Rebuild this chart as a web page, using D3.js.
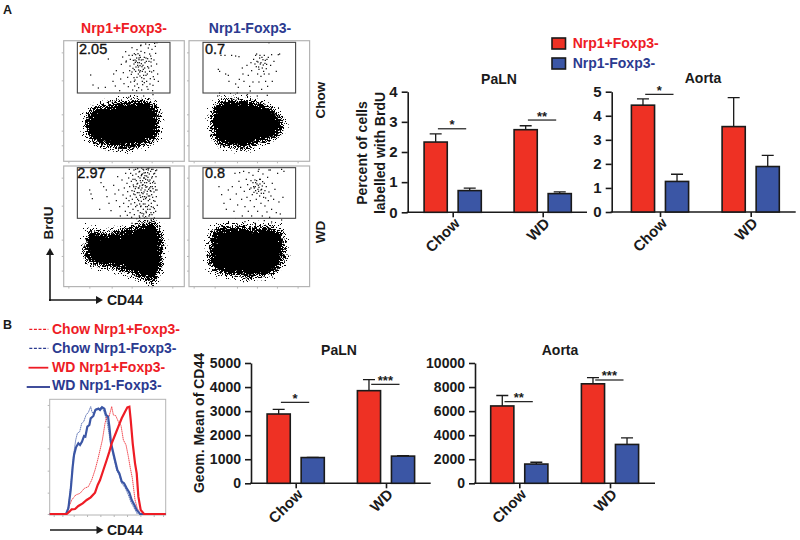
<!DOCTYPE html>
<html><head><meta charset="utf-8">
<style>
html,body{margin:0;padding:0;background:#fff}
text{font-family:"Liberation Sans",Arial,sans-serif}
</style>
<script src="https://cdn.jsdelivr.net/npm/d3@7/dist/d3.min.js"></script>
</head><body><svg id="c" width="800" height="540"></svg>
<script>
// ---------- bar chart data ----------
const categories = ["Chow","WD"];
const series = ["Nrp1+Foxp3-","Nrp1-Foxp3-"];
const palnBrduMean = [[2.33,0.72],[2.74,0.62]];
const palnBrduTop  = [[2.60,0.80],[2.87,0.68]];
const aortaBrduMean = [[4.44,1.27],[3.55,1.89]];
const aortaBrduTop  = [[4.70,1.57],[4.75,2.35]];
const palnCd44Mean = [[2880,1070],[3850,1130]];
const palnCd44Top  = [[3070,1075],[4310,1145]];
const aortaCd44Mean = [[6430,1600],[8270,3230]];
const aortaCd44Top  = [[7300,1750],[8780,3780]];
const palnBrduTicks = [0,1,2,3,4];
const aortaBrduTicks = [0,1,2,3,4,5];
const palnCd44Ticks = [0,1000,2000,3000,4000,5000];
const aortaCd44Ticks = [0,2000,4000,6000,8000,10000];
const palnBrduSig = [["*",2.77],["**",3.06]];
const aortaBrduSig = [["*",4.89],null];
const palnCd44Sig = [["*",3365],["***",4113]];
const aortaCd44Sig = [["**",6787],["***",8587]];

// ---------- flow cytometry data (channel units, read by eye) ----------
const flowGateChow = ["2.05","0.7"];
const flowGateWd = ["2.97","0.8"];
const blobChowPos = [[64,105],[68,135],[87,158],[125,170],[180,180],[240,184],[273,173],[285,145],[286,105],[278,72],[250,52],[210,40],[170,38],[125,47],[87,60],[70,80]];
const blobChowNeg = [[68,94],[69,145],[80,172],[113,184],[175,183],[233,168],[270,140],[281,110],[270,80],[225,60],[165,41],[113,47],[80,60]];
const blobWdPos = [[62,100],[66,140],[78,168],[120,160],[170,170],[215,180],[268,195],[292,165],[296,110],[292,60],[270,14],[240,25],[205,38],[140,57],[78,72]];
const blobWdNeg = [[64,60],[63,120],[72,168],[110,179],[190,178],[258,177],[282,158],[287,110],[280,66],[255,43],[195,28],[120,35],[82,45]];
const dotsChowPos = [[81,259],[88,229],[104,220],[134,307],[125,222],[150,262],[158,272],[148,240],[155,226],[168,212],[171,247],[173,291],[177,313],[179,266],[181,233],[186,329],[188,301],[187,298],[192,252],[194,224],[196,318],[199,286],[203,261],[201,238],[207,214],[205,341],[209,303],[208,279],[211,251],[213,226],[212,323],[215,297],[216,270],[214,244],[219,212],[220,335],[219,310],[222,288],[224,262],[221,232],[226,305],[224,283],[227,296],[229,256],[225,221],[231,347],[228,318],[233,293],[230,272],[236,240],[234,214],[232,330],[238,305],[235,284],[240,258],[237,230],[242,312],[239,276],[244,296],[241,248],[246,352],[243,326],[248,300],[245,268],[250,224],[247,310],[252,284],[249,240],[254,340],[251,262],[256,300],[253,216],[258,322],[255,280],[260,248],[257,350],[262,298],[259,232],[264,268],[261,316],[267,212],[263,286],[269,254],[265,336],[271,304],[268,228],[273,354],[270,272],[276,324],[272,246],[279,292],[275,345],[282,262],[280,356],[195,192],[240,196],[268,200],[284,240],[232,349],[212,275],[205,268],[218,301],[228,268],[226,310],[216,320],[236,270],[222,296],[229,287],[217,283],[233,304],[225,274],[211,292],[238,288],[220,252],[230,312],[243,280],[214,304],[206,318],[247,258],[200,306],[252,308],[223,323],[234,251],[242,236],[212,240],[198,272],[263,308],[258,270]];
const dotsChowNeg = [[88,276],[96,318],[108,318],[128,318],[140,316],[150,314],[92,270],[110,262],[118,258],[120,240],[140,232],[148,222],[151,246],[160,280],[162,262],[165,240],[174,288],[178,258],[182,225],[184,211],[186,296],[188,272],[192,238],[194,306],[198,292],[200,318],[203,322],[204,300],[206,262],[209,283],[210,238],[212,310],[214,292],[216,255],[218,216],[220,280],[222,305],[224,270],[226,318],[228,294],[230,240],[232,278],[234,306],[236,225],[238,312],[240,262],[245,288],[250,240],[255,300],[262,270],[268,320],[272,322],[175,200],[205,196],[235,198],[248,320],[240,356],[145,205],[92,205],[86,196],[207,298],[216,296],[223,289],[210,276],[219,312],[229,303],[202,284],[213,318],[233,291],[226,262]];
const dotsWdPos = [[78,290],[82,278],[86,264],[108,232],[112,312],[120,300],[128,290],[130,270],[136,250],[142,228],[150,304],[154,278],[158,258],[162,330],[165,290],[168,240],[170,212],[175,320],[178,275],[180,250],[182,296],[185,226],[186,340],[188,265],[190,310],[191,214],[192,285],[194,240],[195,326],[196,258],[197,352],[198,300],[199,222],[200,272],[201,340],[202,248],[203,316],[204,208],[205,288],[206,262],[207,334],[208,232],[209,305],[210,278],[211,350],[212,216],[213,252],[214,322],[215,294],[216,240],[217,338],[218,268],[219,204],[220,308],[221,282],[222,354],[223,228],[224,330],[225,258],[226,296],[227,212],[228,346],[229,274],[230,318],[231,240],[232,290],[233,256],[234,336],[235,220],[236,304],[237,270],[238,352],[239,232],[240,326],[241,284],[242,206],[243,312],[244,248],[245,342],[246,264],[247,298],[248,222],[249,332],[250,278],[251,240],[252,320],[253,354],[254,258],[255,292],[256,212],[257,338],[258,272],[259,232],[260,310],[261,346],[262,286],[263,250],[264,326],[265,216],[266,300],[267,268],[268,352],[269,238],[270,316],[271,284],[272,206],[273,340],[274,256],[275,300],[276,226],[277,330],[278,270],[279,350],[280,290],[281,244],[205,190],[215,188],[225,196],[235,192],[245,198],[255,190],[262,200],[272,196],[250,205],[228,208],[238,212],[210,300],[214,276],[218,318],[222,262],[226,344],[230,222],[234,282],[238,306],[242,326],[246,240],[250,300],[254,350],[258,262],[262,222],[266,330],[270,258],[274,310],[244,290],[248,268],[252,232],[256,316],[260,288],[264,352],[268,294],[272,234],[276,348],[240,262],[236,338],[232,312],[228,248],[224,296],[220,244],[216,352],[212,286],[208,322],[240,350],[246,322],[252,342],[258,296],[264,276],[270,338],[276,290],[233,333],[241,341],[249,312],[237,318],[245,303],[253,328],[229,326],[235,296],[243,270],[251,286],[259,320],[239,248],[247,226],[255,244],[231,268],[263,240],[267,312],[226,282],[222,310],[217,300],[238,279],[254,272],[261,300],[244,333],[248,352],[234,356],[256,356],[228,302],[232,242],[240,218],[246,210],[252,198],[258,216],[264,204],[270,222]];
const dotsWdNeg = [[90,300],[98,276],[105,250],[112,232],[118,290],[124,262],[130,300],[135,226],[138,340],[142,278],[146,245],[150,316],[155,298],[158,262],[160,212],[164,346],[166,286],[168,240],[172,322],[174,268],[176,306],[178,226],[180,342],[182,292],[184,258],[186,318],[188,212],[190,276],[192,334],[194,300],[196,240],[198,320],[200,288],[202,262],[204,308],[206,226],[208,346],[210,298],[212,272],[214,322],[216,250],[218,292],[220,212],[222,338],[224,280],[226,310],[228,242],[230,266],[232,300],[234,224],[236,328],[238,258],[240,284],[242,208],[244,350],[246,272],[248,232],[250,310],[254,262],[258,292],[262,222],[266,340],[270,254],[274,218],[278,352],[282,268],[196,296],[200,312],[204,280],[208,304],[212,322],[216,290],[220,302],[224,268],[228,288],[192,312],[186,296],[168,195],[198,190],[226,198],[248,194],[278,200],[240,350],[285,346],[210,352],[152,342],[199,300],[207,292],[213,308],[203,318],[217,280],[209,286],[221,315],[195,283]];
const flowXTicks = [14,77,144,204,264,326];
const flowYTicks = [48,92,141,243,327];

// ---------- histogram data (channel, count, read by eye) ----------
const histWdNeg = [[0,3],[49,3],[56,20],[63,75],[69,145],[73,180],[79,203],[86,215],[91,210],[97,220],[103,237],[107,235],[113,265],[119,270],[123,290],[131,297],[137,315],[146,319],[151,315],[157,323],[164,319],[169,300],[175,295],[179,265],[184,215],[191,185],[197,160],[203,135],[209,125],[216,100],[223,95],[231,80],[239,67],[246,45],[254,30],[261,15],[271,3],[348,3]];
const histChowNeg = [[49,3],[56,25],[63,85],[71,175],[78,225],[83,245],[90,250],[96,275],[102,280],[109,300],[116,308],[123,325],[127,308],[131,305],[139,320],[146,317],[154,322],[161,315],[166,300],[171,285],[176,258],[181,225],[191,175],[201,135],[209,118],[216,95],[226,82],[236,60],[244,38],[251,25],[263,3]];
const histWdPos = [[0,3],[51,3],[59,10],[66,17],[76,18],[86,27],[99,35],[111,45],[123,53],[136,67],[144,90],[151,105],[161,135],[171,165],[179,190],[186,215],[196,240],[206,265],[216,290],[226,310],[233,323],[239,325],[243,285],[249,215],[256,155],[261,125],[266,55],[273,15],[283,3],[348,3]];
const histChowPos = [[51,3],[58,25],[66,45],[78,60],[91,65],[104,80],[116,85],[126,105],[136,135],[144,165],[151,195],[158,225],[166,275],[172,300],[178,295],[186,325],[191,300],[198,298],[206,280],[214,268],[221,225],[229,210],[236,175],[242,140],[248,110],[256,45],[263,20],[271,3]];
const histXTicks = [12,38,72,112,152,192,232,272,312,340];
const histYTicks = [3,67,133,200,265,330];

const legendB = ["Chow Nrp1+Foxp3-","Chow Nrp1-Foxp3-","WD Nrp1+Foxp3-","WD Nrp1-Foxp3-"];

// ---------- styles ----------
const RED="#ee3124", BLUE="#3b56a5", TRED="#ee1c25", TBLUE="#2b3a90", INK="#1a1a1a", GREY="#b4b4b4";
const svg=d3.select("#c");
const defs=svg.append("defs");
const fz=defs.append("filter").attr("id","fuzz").attr("x","-25%").attr("y","-25%").attr("width","150%").attr("height","150%").attr("color-interpolation-filters","sRGB");
fz.append("feTurbulence").attr("type","fractalNoise").attr("baseFrequency",1.4).attr("numOctaves",1).attr("seed",4).attr("result","n");
fz.append("feDisplacementMap").attr("in","SourceGraphic").attr("in2","n").attr("scale",26).attr("xChannelSelector","R").attr("yChannelSelector","G");

function txt(x,y,s,o={}){
  const t=svg.append("text").attr("x",x).attr("y",y).text(s)
    .attr("font-size",o.size||14).attr("font-weight",o.weight||"bold")
    .attr("fill",o.fill||INK).attr("text-anchor",o.anchor||"start");
  if(o.rot!=null) t.attr("transform",`rotate(${o.rot} ${x} ${y})`);
  return t;
}
function arrow(x1,y1,x2,y2){
  const dx=Math.sign(x2-x1),dy=Math.sign(y2-y1);
  svg.append("line").attr("x1",x1).attr("y1",y1).attr("x2",x2-dx*4).attr("y2",y2-dy*4).attr("stroke",INK).attr("stroke-width",1.6);
  const p=dx? [[x2,y2],[x2-dx*7,y2-4],[x2-dx*7,y2+4]] : [[x2,y2],[x2-4,y2-dy*7],[x2+4,y2-dy*7]];
  svg.append("path").attr("d",d3.line()(p)+"Z").attr("fill",INK);
}

// ---------- bar charts ----------
function barChart(o){
  const g=svg.append("g");
  const y=d3.scaleLinear().domain(o.domain).range([o.bottom,o.top]);
  const x0=d3.scalePoint().domain(categories).range(o.centers);
  const x1=d3.scaleBand().domain(series).range([-28.6,28.6]).paddingInner(0.32);
  const yAxis=d3.axisLeft(y).tickValues(o.ticks).tickSize(6).tickSizeOuter(0).tickFormat(d3.format("d"));
  const ya=g.append("g").attr("transform",`translate(${o.left},0)`).call(yAxis);
  const xa=g.append("g").attr("transform",`translate(0,${o.bottom})`)
    .call(d3.axisBottom(x0).tickSize(5).tickSizeOuter(0).tickFormat(""));
  xa.select(".domain").remove();
  xa.append("line").attr("x1",o.left-1).attr("x2",o.right).attr("stroke",INK).attr("stroke-width",1.6);
  [ya,xa].forEach(a=>{a.selectAll("path,line").attr("stroke",INK).attr("stroke-width",1.6);});
  ya.selectAll("text").attr("font-size",o.tickSize).attr("font-weight","bold").attr("fill",INK).attr("dx",-1).attr("font-family",'"Liberation Sans"');
  categories.forEach((c,i)=>{
    series.forEach((s,j)=>{
      const cx=x0(c)+x1(s)+x1.bandwidth()/2;
      const cap=6;
      const top=y(o.tops[i][j]), v=y(o.means[i][j]);
      g.append("path").attr("d",`M${cx},${v}V${top}M${cx-cap},${top}H${cx+cap}`).attr("fill","none").attr("stroke",INK).attr("stroke-width",1.3);
      g.append("rect").attr("x",x0(c)+x1(s)).attr("width",x1.bandwidth())
        .attr("y",v).attr("height",y(0)-v).attr("fill",j?BLUE:RED).attr("stroke",INK).attr("stroke-width",1.6);
    });
    const sg=o.sig[i];
    if(sg){
      g.append("line").attr("x1",x0(c)-14.8).attr("x2",x0(c)+13.5).attr("y1",y(sg[1])).attr("y2",y(sg[1])).attr("stroke",INK).attr("stroke-width",1.2);
      g.append("text").attr("x",x0(c)-0.6).attr("y",y(sg[1])+0.5).attr("text-anchor","middle").attr("font-size",13).attr("font-weight","bold").attr("fill",INK).text(sg[0]);
    }
    g.append("text").attr("text-anchor","end").attr("font-size",15).attr("font-weight","bold").attr("fill",INK)
      .attr("transform",`translate(${x0(c)+8},${o.bottom+12}) rotate(-45)`).text(c);
  });
  txt(o.titleX,o.titleY,o.title,{anchor:"middle"});
}
barChart({title:"PaLN",titleX:499,titleY:84,left:407.7,right:587,top:91.7,bottom:212.3,centers:[452.7,542.7],domain:[0,4],ticks:palnBrduTicks,means:palnBrduMean,tops:palnBrduTop,sig:palnBrduSig,tickSize:15});
barChart({title:"Aorta",titleX:703,titleY:83,left:611.7,right:795.7,top:91.7,bottom:212,centers:[660,750.7],domain:[0,5],ticks:aortaBrduTicks,means:aortaBrduMean,tops:aortaBrduTop,sig:aortaBrduSig,tickSize:15});
barChart({title:"PaLN",titleX:339,titleY:355,left:251,right:430.7,top:363,bottom:483.3,centers:[295.7,386],domain:[0,5000],ticks:palnCd44Ticks,means:palnCd44Mean,tops:palnCd44Top,sig:palnCd44Sig,tickSize:14});
barChart({title:"Aorta",titleX:560,titleY:355,left:475,right:655,top:363,bottom:483.3,centers:[519.3,610],domain:[0,10000],ticks:aortaCd44Ticks,means:aortaCd44Mean,tops:aortaCd44Top,sig:aortaCd44Sig,tickSize:14});

txt(366.5,153,"Percent of cells",{anchor:"middle",rot:-90});
txt(385,153,"labelled with BrdU",{anchor:"middle",rot:-90});
txt(204,423,"Geom. Mean of CD44",{anchor:"middle",rot:-90});

// ---------- legend A ----------
series.forEach((s,i)=>{
  svg.append("rect").attr("x",552).attr("y",38+i*20).attr("width",13.5).attr("height",11).attr("fill",i?BLUE:RED).attr("stroke",INK).attr("stroke-width",1.6);
  txt(572.7,47.7+i*20,s,{fill:i?TBLUE:TRED});
});

// ---------- flow panels ----------
function flow(o){
  const g=svg.append("g");
  const x=d3.scaleLinear().domain([0,362]).range([o.x,o.x+120.6]);
  const y=d3.scaleLinear().domain([0,362]).range([o.y+120.6,o.y]);
  const ya=g.append("g").attr("transform",`translate(${o.x},0)`).call(d3.axisLeft(y).tickValues(flowYTicks).tickSize(2).tickFormat("").tickSizeOuter(0));
  const xa=g.append("g").attr("transform",`translate(0,${o.y+120.6})`).call(d3.axisBottom(x).tickValues(flowXTicks).tickSize(2).tickFormat("").tickSizeOuter(0));
  [ya,xa].forEach(a=>{a.select(".domain").remove();a.selectAll("line").attr("stroke","#999").attr("stroke-width",0.7);});
  g.append("rect").attr("x",x(0)).attr("y",y(362)).attr("width",x(362)-x(0)).attr("height",y(0)-y(362)).attr("fill","#fff").attr("stroke",GREY).attr("stroke-width",1.2);
  g.append("path").attr("d",d3.line().x(d=>x(d[0])).y(d=>y(d[1])).curve(d3.curveCatmullRomClosed)(o.blob)).attr("fill","#000").attr("filter","url(#fuzz)");
  g.selectAll("rect.d").data(o.dots).join("rect").attr("class","d").attr("x",d=>x(d[0])-0.6).attr("y",d=>y(d[1])-0.6).attr("width",1.2).attr("height",1.2).attr("fill","#000");
  g.append("rect").attr("x",x(o.gate[0])).attr("y",y(357)).attr("width",x(o.gate[1])-x(o.gate[0])).attr("height",y(205)-y(357)).attr("fill","none").attr("stroke","#444").attr("stroke-width",1.1);
  txt(x(o.labelX),y(o.labelY),o.label,{weight:"normal",size:14.5,fill:"#111"}).attr("stroke","#111").attr("stroke-width",0.35);
}
flow({x:63.7,y:40.7,blob:blobChowPos,dots:dotsChowPos,gate:[41,319],label:flowGateChow[0],labelX:46,labelY:322});
flow({x:189,y:40.7,blob:blobChowNeg,dots:dotsChowNeg,gate:[42,320],label:flowGateChow[1],labelX:48,labelY:322});
flow({x:63.7,y:166,blob:blobWdPos,dots:dotsWdPos,gate:[41,319],label:flowGateWd[0],labelX:41,labelY:325});
flow({x:189,y:166,blob:blobWdNeg,dots:dotsWdNeg,gate:[42,320],label:flowGateWd[1],labelX:48,labelY:325});

txt(124,33,series[0],{anchor:"middle",fill:TRED});
txt(250,33,series[1],{anchor:"middle",fill:TBLUE});
txt(325,100,"Chow",{anchor:"middle",rot:-90,size:13.5});
txt(325,232,"WD",{anchor:"middle",rot:-90,size:13.5});
txt(52.5,223,"BrdU",{anchor:"middle",rot:-90,size:13.5});
arrow(50,300,50,248);
arrow(50,300,103,300);
svg.append("rect").attr("x",49).attr("y",299).attr("width",2).attr("height",2).attr("fill",INK);
txt(107,305,"CD44",{size:14});
txt(3,14,"A",{size:12.5});
txt(3,329,"B",{size:12.5});

// ---------- histogram ----------
(function(){
  const g=svg.append("g");
  const x=d3.scaleLinear().domain([0,348]).range([49.7,165.7]);
  const y=d3.scaleLinear().domain([0,347]).range([515,399.3]);
  const ya=g.append("g").attr("transform","translate(49.7,0)").call(d3.axisLeft(y).tickValues(histYTicks).tickSize(2).tickFormat("").tickSizeOuter(0));
  const xa=g.append("g").attr("transform","translate(0,515)").call(d3.axisBottom(x).tickValues(histXTicks).tickSize(2).tickFormat("").tickSizeOuter(0));
  [ya,xa].forEach(a=>{a.select(".domain").remove();a.selectAll("line").attr("stroke","#999").attr("stroke-width",0.7);});
  g.append("rect").attr("x",49.7).attr("y",399.3).attr("width",116).attr("height",115.7).attr("fill","#fff").attr("stroke",GREY).attr("stroke-width",1);
  const l=d3.line().x(d=>x(d[0])).y(d=>y(d[1]));
  const cs=[[histChowNeg,BLUE,0.8,"1.5 0.5"],[histChowPos,"#ee1c25",0.8,"1.5 0.5"],[histWdNeg,BLUE,2.2,null],[histWdPos,"#ee1c25",2.2,null]];
  cs.forEach(c=>g.append("path").attr("d",l(c[0])).attr("fill","none").attr("stroke",c[1]).attr("stroke-width",c[2]).attr("stroke-dasharray",c[3]));
})();
arrow(50,530,103.5,530);
txt(107,535,"CD44",{size:14});

// ---------- legend B ----------
const lx=[[29.3,48.3],[29.3,48.3],[28.5,48.3],[26.7,50]], ly=[329.3,348.3,367.7,387], ty=[334,352.5,371.5,390];
legendB.forEach((s,i)=>{
  const col=i%2?TBLUE:TRED;
  svg.append("line").attr("x1",lx[i][0]).attr("x2",lx[i][1]).attr("y1",ly[i]).attr("y2",ly[i]).attr("stroke",col)
    .attr("stroke-width",i<2?1.2:1.8).attr("stroke-dasharray",i<2?"3 1.6":null);
  txt(52,ty[i],s,{fill:col});
});
</script></body></html>
